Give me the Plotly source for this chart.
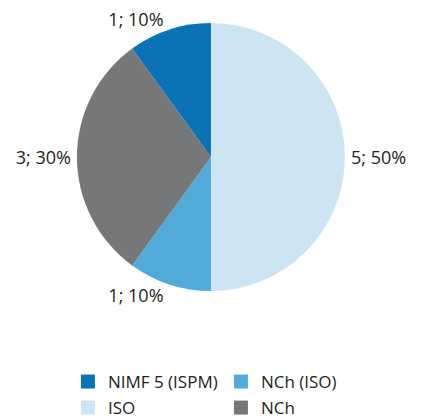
import plotly.graph_objects as go

# slice data, in drawing order (clockwise from 12 o'clock)
labels = ["ISO", "NCh (ISO)", "NCh", "NIMF 5 (ISPM)"]
values = [5, 1, 3, 1]
colors = ["#cde5f2", "#52aad8", "#757779", "#0a72b5"]

# legend rows as in the reference
legend_rows = [["NIMF 5 (ISPM)", "NCh (ISO)"], ["ISO", "NCh"]]

color_of = dict(zip(labels, colors))
label_font = dict(family="Open Sans, sans-serif", size=18, color="#231f20")
legend_font = dict(family="Open Sans, sans-serif", size=17, color="#231f20")

fig = go.Figure()
fig.add_trace(go.Pie(
    labels=labels, values=values, sort=False, direction="clockwise", rotation=0,
    marker=dict(colors=colors, line=dict(width=0)),
    texttemplate="%{value}; %{percent:.0%}", textposition="outside",
    textfont=label_font, showlegend=False, hoverinfo="label+value+percent",
    domain=dict(x=[0.162, 0.793], y=[0.3246, 0.9642]),
))

# dummy traces so the legend keeps its own order, one legend per row
for i, row in enumerate(legend_rows):
    for name in row:
        fig.add_trace(go.Scatter(
            x=[None], y=[None], mode="markers", name=name,
            legend="legend" if i == 0 else "legend2",
            marker=dict(symbol="square", size=14, color=color_of[name]),
        ))

leg = dict(orientation="h", x=0.141, xanchor="left", yanchor="middle",
           entrywidth=108, entrywidthmode="pixels", font=legend_font,
           itemclick=False, bgcolor="rgba(0,0,0,0)")

fig.update_layout(
    width=425, height=419, margin=dict(l=0, r=0, t=0, b=0, autoexpand=False),
    paper_bgcolor="white", plot_bgcolor="white",
    xaxis=dict(visible=False), yaxis=dict(visible=False),
    font=label_font,
    legend=dict(leg, y=0.1074),
    legend2=dict(leg, y=0.0453),
)

fig.write_html("out.html")
